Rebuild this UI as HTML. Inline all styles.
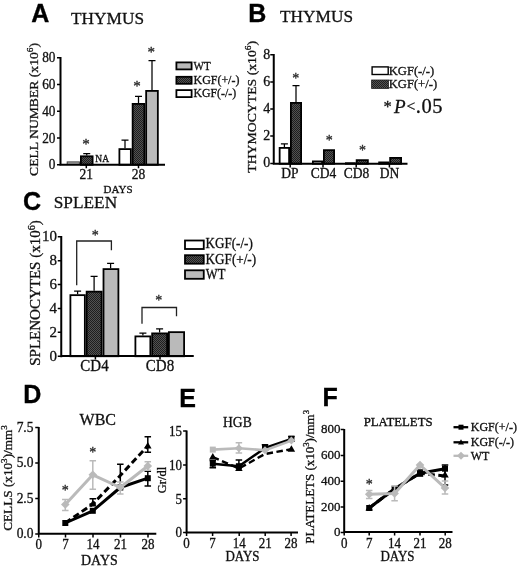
<!DOCTYPE html>
<html><head><meta charset="utf-8">
<style>
html,body{margin:0;padding:0;background:#fff;width:520px;height:566px;overflow:hidden}
svg{display:block;will-change:transform}
text{font-family:"Liberation Serif",serif;fill:#111;stroke:#111;stroke-width:0.3px}
.L{font-family:"Liberation Sans",sans-serif;font-weight:bold;fill:#000;stroke:#000;stroke-width:0.35px}
.ax{stroke:#000;stroke-width:2;fill:none}
.tk{stroke:#000;stroke-width:1.5;fill:none}
.bar{stroke:#000;stroke-width:1.8}
</style></head><body>
<svg width="520" height="566" viewBox="0 0 520 566">
<defs>
<pattern id="h" width="2" height="2" patternUnits="userSpaceOnUse">
<rect width="2" height="2" fill="#525252"/><rect width="1" height="1" fill="#1e1e1e"/><rect x="1" y="1" width="1" height="1" fill="#1e1e1e"/>
</pattern>
</defs>
<rect width="520" height="566" fill="#fff"/>
<text class="L" x="31.2" y="21.8" font-size="25">A</text>
<text transform="translate(71,23.8) scale(1,1.02)" font-size="17.3">THYMUS</text>
<text transform="translate(38.2,109.5) scale(1,1.05) rotate(-90)" text-anchor="middle" font-size="13">CELL NUMBER (x10<tspan font-size="8.8" dy="-4.9">6</tspan><tspan dy="4.9">)</tspan></text>
<path class="tk" d="M57.0 57.75H60.5M57.0 84.5H60.5M57.0 111.25H60.5M57.0 138H60.5M57.0 164.75H60.5"/>
<text transform="translate(55.5,62.35) scale(1,1.05)" font-size="13.3" text-anchor="end">80</text>
<text transform="translate(55.5,89.1) scale(1,1.05)" font-size="13.3" text-anchor="end">60</text>
<text transform="translate(55.5,115.85) scale(1,1.05)" font-size="13.3" text-anchor="end">40</text>
<text transform="translate(55.5,142.6) scale(1,1.05)" font-size="13.3" text-anchor="end">20</text>
<text transform="translate(55.5,169.35) scale(1,1.05)" font-size="13.3" text-anchor="end">0</text>
<rect x="67.2" y="161.9" width="12.2" height="2.6" fill="#aaa" stroke="#444" stroke-width="1"/>
<path d="M86.75 155.4V153.5M83.25 153.5H90.25" stroke="#000" stroke-width="1.25" fill="none"/>
<rect class="bar" x="80.9" y="156.3" width="11.7" height="8.449999999999994" fill="url(#h)"/>
<path d="M125 148.2V140.2M121.5 140.2H128.5" stroke="#000" stroke-width="1.25" fill="none"/>
<rect class="bar" x="119.4" y="149.1" width="11.45" height="15.650000000000011" fill="#fff"/>
<path d="M138.5 103V96.25M135.0 96.25H142.0" stroke="#000" stroke-width="1.25" fill="none"/>
<rect class="bar" x="132.65" y="103.9" width="11.7" height="60.85" fill="url(#h)"/>
<path d="M152 90V60.5M148.5 60.5H155.5" stroke="#000" stroke-width="1.25" fill="none"/>
<rect class="bar" x="146.15" y="90.9" width="11.7" height="73.85" fill="#bababa"/>
<path class="ax" d="M60.5 57V165.75M59.5 164.75H165"/>
<path class="tk" d="M86.3 164.75V168.3M138.5 164.75V168.3"/>
<text x="86.1" y="149.35" font-size="15" text-anchor="middle" style="fill:#2a2a2a;stroke:#2a2a2a">*</text>
<text x="137" y="90.75" font-size="15" text-anchor="middle" style="fill:#2a2a2a;stroke:#2a2a2a">*</text>
<text x="151.2" y="56.55" font-size="15" text-anchor="middle" style="fill:#2a2a2a;stroke:#2a2a2a">*</text>
<text transform="translate(95.3,162.4) scale(1,1.0)" font-size="9.5">NA</text>
<text transform="translate(86.3,178.5) scale(1,1.05)" font-size="13.5" text-anchor="middle">21</text>
<text transform="translate(138.5,178.5) scale(1,1.05)" font-size="13.5" text-anchor="middle">28</text>
<text transform="translate(103.6,193.4) scale(1,0.97)" font-size="11">DAYS</text>
<rect class="bar" x="176.4" y="62.4" width="15.2" height="7" fill="#bababa"/>
<rect class="bar" x="176.4" y="76.8" width="15.2" height="7" fill="url(#h)"/>
<rect class="bar" x="176.4" y="90.1" width="15.2" height="7" fill="#fff"/>
<text transform="translate(193.5,69.5) scale(1,1.05)" font-size="12.4" textLength="17.2" lengthAdjust="spacingAndGlyphs">WT</text>
<text transform="translate(193.5,83.9) scale(1,1.05)" font-size="12.4" textLength="45.9" lengthAdjust="spacingAndGlyphs">KGF(+/-)</text>
<text transform="translate(193.5,97.4) scale(1,1.05)" font-size="12.4" textLength="42.6" lengthAdjust="spacingAndGlyphs">KGF(-/-)</text>
<text class="L" x="248.3" y="21.9" font-size="25">B</text>
<text transform="translate(280,22.3) scale(1,1.02)" font-size="17.3">THYMUS</text>
<text transform="translate(256.3,106.8) scale(1,1.05) rotate(-90)" text-anchor="middle" font-size="13.1">THYMOCYTES (x10<tspan font-size="8.9" dy="-5.0">6</tspan><tspan dy="5.0">)</tspan></text>
<path class="tk" d="M270.25 54.8H273.75M270.25 81.9H273.75M270.25 108.9H273.75M270.25 136H273.75M270.25 163.5H273.75"/>
<text transform="translate(270.2,58.5) scale(1,1.05)" font-size="14" text-anchor="end">8</text>
<text transform="translate(270.2,85.6) scale(1,1.05)" font-size="14" text-anchor="end">6</text>
<text transform="translate(270.2,112.6) scale(1,1.05)" font-size="14" text-anchor="end">4</text>
<text transform="translate(270.2,139.7) scale(1,1.05)" font-size="14" text-anchor="end">2</text>
<text transform="translate(270.2,167.2) scale(1,1.05)" font-size="14" text-anchor="end">0</text>
<path d="M284.4 147V143.75M280.9 143.75H287.9" stroke="#000" stroke-width="1.25" fill="none"/>
<rect class="bar" x="279.65" y="147.9" width="9.45" height="15.85" fill="#fff"/>
<path d="M296 102V85.5M292.5 85.5H299.5" stroke="#000" stroke-width="1.25" fill="none"/>
<rect class="bar" x="290.9" y="102.9" width="10.2" height="60.85" fill="url(#h)"/>
<rect class="bar" x="312.9" y="161.4" width="9.2" height="2.35" fill="#fff"/>
<rect class="bar" x="323.9" y="150.15" width="10.2" height="13.6" fill="url(#h)"/>
<rect class="bar" x="345.9" y="163.20000000000002" width="8.95" height="0.5499999999999886" fill="#fff"/>
<rect class="bar" x="356.65" y="160.15" width="11.2" height="3.6" fill="url(#h)"/>
<rect class="bar" x="379.15" y="162.4" width="9.2" height="1.35" fill="#fff"/>
<rect class="bar" x="390.15" y="157.9" width="10.95" height="5.85" fill="url(#h)"/>
<path class="ax" d="M273.75 54V164.75M272.75 163.75H407.5"/>
<path class="tk" d="M290.2 163.75V167.5M323 163.75V167.5M356.2 163.75V167.5M389.4 163.75V167.5"/>
<text x="295.75" y="83.08" font-size="14" text-anchor="middle" style="fill:#2a2a2a;stroke:#2a2a2a">*</text>
<text x="329.2" y="144.58" font-size="14" text-anchor="middle" style="fill:#2a2a2a;stroke:#2a2a2a">*</text>
<text x="362.5" y="155.33" font-size="14" text-anchor="middle" style="fill:#2a2a2a;stroke:#2a2a2a">*</text>
<text transform="translate(290,178) scale(1,1.05)" font-size="13.5" text-anchor="middle">DP</text>
<text transform="translate(323.5,178) scale(1,1.05)" font-size="13.5" text-anchor="middle">CD4</text>
<text transform="translate(356.6,178) scale(1,1.05)" font-size="13.5" text-anchor="middle">CD8</text>
<text transform="translate(389.5,178) scale(1,1.05)" font-size="13.5" text-anchor="middle">DN</text>
<rect x="372.1" y="66.9" width="16.1" height="7.6" fill="#fff" stroke="#000" stroke-width="1.4"/>
<rect x="371.6" y="80" width="17" height="8.5" fill="url(#h)" stroke="#222" stroke-width="0.8"/>
<text transform="translate(388.75,74.5) scale(1,1.05)" font-size="12.6">KGF(-/-)</text>
<text transform="translate(388.75,88) scale(1,1.05)" font-size="12.6">KGF(+/-)</text>
<text x="383.5" y="112.5" font-size="19"><tspan font-size="16.5" dy="-0.8">*</tspan><tspan font-style="italic" dx="2.25" dy="0.8">P</tspan><tspan dx="1" dy="-1.2" font-size="15.5">&lt;</tspan><tspan font-size="20.5" dx="0.3" dy="1.2" letter-spacing="0.6">.05</tspan></text>
<text class="L" x="23" y="210" font-size="25">C</text>
<text transform="translate(53.75,208.3) scale(1,0.98)" font-size="17.3">SPLEEN</text>
<text transform="translate(40,293) scale(1,1.05) rotate(-90)" text-anchor="middle" font-size="14.3">SPLENOCYTES (x10<tspan font-size="9.7" dy="-5.4">6</tspan><tspan dy="5.4">)</tspan></text>
<path class="tk" d="M57.75 236.75H61.25M57.75 260.65H61.25M57.75 284.55H61.25M57.75 308.45H61.25M57.75 332.35H61.25M57.75 356.25H61.25"/>
<text transform="translate(57,241.05) scale(1,0.97)" font-size="15" text-anchor="end">10</text>
<text transform="translate(57,264.95) scale(1,0.97)" font-size="15" text-anchor="end">8</text>
<text transform="translate(57,288.85) scale(1,0.97)" font-size="15" text-anchor="end">6</text>
<text transform="translate(57,312.75) scale(1,0.97)" font-size="15" text-anchor="end">4</text>
<text transform="translate(57,336.65) scale(1,0.97)" font-size="15" text-anchor="end">2</text>
<text transform="translate(57,360.55) scale(1,0.97)" font-size="15" text-anchor="end">0</text>
<path d="M76.7 285.3V241H111.4V250.2" stroke="#222" stroke-width="1.3" fill="none"/>
<path d="M142 323.75V307.5H176.5V316.25" stroke="#222" stroke-width="1.3" fill="none"/>
<path d="M77.6 294.25V291M74.1 291H81.1" stroke="#000" stroke-width="1.25" fill="none"/>
<rect class="bar" x="70.4" y="295.15" width="14.45" height="61.1" fill="#fff"/>
<path d="M94.1 290.75V276.25M90.6 276.25H97.6" stroke="#000" stroke-width="1.25" fill="none"/>
<rect class="bar" x="86.65" y="291.65" width="14.95" height="64.6" fill="url(#h)"/>
<path d="M110.6 268.25V263.25M107.1 263.25H114.1" stroke="#000" stroke-width="1.25" fill="none"/>
<rect class="bar" x="103.5" y="269.09999999999997" width="14.900000000000002" height="87.15" fill="#bababa"/>
<path d="M142.9 335.5V333M139.4 333H146.4" stroke="#000" stroke-width="1.25" fill="none"/>
<rect class="bar" x="135.4" y="336.4" width="14.95" height="19.85" fill="#fff"/>
<path d="M159.6 332.5V328.75M156.1 328.75H163.1" stroke="#000" stroke-width="1.25" fill="none"/>
<rect class="bar" x="152.15" y="333.4" width="14.95" height="22.85" fill="url(#h)"/>
<rect class="bar" x="168.9" y="332.15" width="15.2" height="24.1" fill="#bababa"/>
<path class="ax" d="M61.25 236V357.25M60.25 356H193.75"/>
<path class="tk" d="M95.4 356V359.5M160 356V359.5"/>
<text x="95.3" y="240.08" font-size="14" text-anchor="middle" style="fill:#2a2a2a;stroke:#2a2a2a">*</text>
<text x="158.75" y="304.58" font-size="14" text-anchor="middle" style="fill:#2a2a2a;stroke:#2a2a2a">*</text>
<text transform="translate(94.5,371) scale(1,1.05)" font-size="15" text-anchor="middle">CD4</text>
<text transform="translate(160,371) scale(1,1.05)" font-size="15" text-anchor="middle">CD8</text>
<rect class="bar" x="185" y="240.5" width="18.75" height="8.5" fill="#fff"/>
<rect class="bar" x="185" y="255.2" width="18.75" height="8.5" fill="url(#h)"/>
<rect class="bar" x="185" y="270.3" width="18.75" height="8.5" fill="#bababa"/>
<text transform="translate(205.6,248.3) scale(1,1.05)" font-size="13.5" textLength="47.2" lengthAdjust="spacingAndGlyphs">KGF(-/-)</text>
<text transform="translate(205.6,263.5) scale(1,1.05)" font-size="13.5" textLength="50.5" lengthAdjust="spacingAndGlyphs">KGF(+/-)</text>
<text transform="translate(205.8,278.8) scale(1,1.05)" font-size="13.5" textLength="19.6" lengthAdjust="spacingAndGlyphs">WT</text>
<text class="L" x="23.2" y="403" font-size="25">D</text>
<text transform="translate(79.6,425.3) scale(1,1.0)" font-size="16">WBC</text>
<text transform="translate(12.2,478) scale(1,1.05) rotate(-90)" text-anchor="middle" font-size="12.6">CELLS (x10<tspan font-size="8.6" dy="-4.8">3</tspan><tspan dy="4.8">)/mm</tspan><tspan font-size="8.6" dy="-4.8">3</tspan></text>
<path class="tk" d="M35.25 427.5H38.75M35.25 463H38.75M35.25 498.5H38.75M35.25 534H38.75"/>
<text transform="translate(33.5,431.8) scale(1,1.05)" font-size="13.5" text-anchor="end">7.5</text>
<text transform="translate(33.5,467.3) scale(1,1.05)" font-size="13.5" text-anchor="end">5.0</text>
<text transform="translate(33.5,502.8) scale(1,1.05)" font-size="13.5" text-anchor="end">2.5</text>
<text transform="translate(33.5,538.3) scale(1,1.05)" font-size="13.5" text-anchor="end">0.0</text>
<path class="ax" d="M38.75 427V534.75M38 533.75H156.3"/>
<path class="tk" d="M38.75 533.75V537.5M65.5 533.75V537.5M93 533.75V537.5M120.5 533.75V537.5M148 533.75V537.5"/>
<text transform="translate(38.75,549) scale(1,1.05)" font-size="13" text-anchor="middle">0</text>
<text transform="translate(65.5,549) scale(1,1.05)" font-size="13" text-anchor="middle">7</text>
<text transform="translate(93,549) scale(1,1.05)" font-size="13" text-anchor="middle">14</text>
<text transform="translate(120.5,549) scale(1,1.05)" font-size="13" text-anchor="middle">21</text>
<text transform="translate(148,549) scale(1,1.05)" font-size="13" text-anchor="middle">28</text>
<text transform="translate(81,565) scale(1,1.05)" font-size="14">DAYS</text>
<path d="M92.8 498.8V504M89.55 498.8H96.05M89.55 504H96.05" stroke="#000" stroke-width="1.5" fill="none"/>
<path d="M120.3 464.3V488M117.05 464.3H123.55M117.05 488H123.55" stroke="#000" stroke-width="1.5" fill="none"/>
<path d="M147.8 436.8V452.2M144.55 436.8H151.05M144.55 452.2H151.05" stroke="#000" stroke-width="1.5" fill="none"/>
<path d="M65.3 523L92.8 504L120.3 475.5L147.8 445.9" stroke="#000" stroke-width="3.0" fill="none" stroke-linejoin="round" stroke-dasharray="6.5 3.5"/>
<path d="M92.8 500.085L96.55 506.61H89.05Z" fill="#000"/>
<path d="M147.8 441.98499999999996L151.55 448.51H144.05Z" fill="#000"/>
<path d="M147.8 471.3V486M144.55 471.3H151.05M144.55 486H151.05" stroke="#000" stroke-width="1.5" fill="none"/>
<path d="M65.3 523L92.8 510.8L120.3 487.5L147.8 478.2" stroke="#000" stroke-width="3.0" fill="none" stroke-linejoin="round"/>
<rect x="62.3" y="520.0" width="6" height="6" fill="#000"/>
<rect x="89.8" y="507.8" width="6" height="6" fill="#000"/>
<rect x="117.3" y="484.5" width="6" height="6" fill="#000"/>
<rect x="144.8" y="475.2" width="6" height="6" fill="#000"/>
<path d="M65.3 499.4V510.4M62.05 499.4H68.55M62.05 510.4H68.55" stroke="#bababa" stroke-width="1.5" fill="none"/>
<path d="M92.8 460.7V489.2M89.55 460.7H96.05M89.55 489.2H96.05" stroke="#bababa" stroke-width="1.5" fill="none"/>
<path d="M120.3 482V494M117.05 482H123.55M117.05 494H123.55" stroke="#bababa" stroke-width="1.5" fill="none"/>
<path d="M147.8 461.7V470.2M144.55 461.7H151.05M144.55 470.2H151.05" stroke="#bababa" stroke-width="1.5" fill="none"/>
<path d="M65.3 504.5L92.8 474.8L120.3 487.5L147.8 466" stroke="#bababa" stroke-width="3.0" fill="none" stroke-linejoin="round"/>
<path d="M65.3 500.2L69.6 504.5L65.3 508.8L61.0 504.5Z" fill="#bababa"/>
<path d="M92.8 470.5L97.1 474.8L92.8 479.1L88.5 474.8Z" fill="#bababa"/>
<path d="M120.3 483.2L124.6 487.5L120.3 491.8L116.0 487.5Z" fill="#bababa"/>
<path d="M147.8 461.7L152.10000000000002 466L147.8 470.3L143.5 466Z" fill="#bababa"/>
<text x="65.3" y="494.78" font-size="14" text-anchor="middle" style="fill:#2a2a2a;stroke:#2a2a2a">*</text>
<text x="92.8" y="457.08" font-size="14" text-anchor="middle" style="fill:#2a2a2a;stroke:#2a2a2a">*</text>
<text class="L" x="179.3" y="407" font-size="25">E</text>
<text transform="translate(223,427.2) scale(1,1.0)" font-size="13.6">HGB</text>
<text transform="translate(166.3,480) rotate(-90)" text-anchor="middle" font-size="12.5">Gr/dl</text>
<path class="tk" d="M183.1 431.1H186.6M183.1 465H186.6M183.1 498.8H186.6M183.1 532.5H186.6"/>
<text transform="translate(182,435.9) scale(1,1.05)" font-size="13" text-anchor="end">15</text>
<text transform="translate(182,469.8) scale(1,1.05)" font-size="13" text-anchor="end">10</text>
<text transform="translate(182,503.6) scale(1,1.05)" font-size="13" text-anchor="end">5</text>
<text transform="translate(182,537.3) scale(1,1.05)" font-size="13" text-anchor="end">0</text>
<path class="ax" d="M186.6 430.5V533.5M185.6 532.5H298"/>
<path class="tk" d="M186.6 532.5V536M212.6 532.5V536M239.2 532.5V536M265.2 532.5V536M291.1 532.5V536"/>
<text transform="translate(186.6,548) scale(1,1.05)" font-size="13" text-anchor="middle">0</text>
<text transform="translate(212.6,548) scale(1,1.05)" font-size="13" text-anchor="middle">7</text>
<text transform="translate(239.2,548) scale(1,1.05)" font-size="13" text-anchor="middle">14</text>
<text transform="translate(265.2,548) scale(1,1.05)" font-size="13" text-anchor="middle">21</text>
<text transform="translate(291.1,548) scale(1,1.05)" font-size="13" text-anchor="middle">28</text>
<text transform="translate(225.4,561) scale(1,1.05)" font-size="13">DAYS</text>
<path d="M212.8 457L238.9 468.5L265 454L291.4 449.2" stroke="#000" stroke-width="2.4" fill="none" stroke-linejoin="round" stroke-dasharray="6.5 3.5"/>
<path d="M212.8 453.085L216.55 459.61H209.05Z" fill="#000"/>
<path d="M238.9 464.585L242.65 471.11H235.15Z" fill="#000"/>
<path d="M291.4 445.28499999999997L295.15 451.81H287.65Z" fill="#000"/>
<path d="M212.8 460.4V467.8M209.55 460.4H216.05M209.55 467.8H216.05" stroke="#000" stroke-width="1.5" fill="none"/>
<path d="M238.9 460V467M235.65 460H242.15M235.65 467H242.15" stroke="#000" stroke-width="1.5" fill="none"/>
<path d="M265 444.8V450M261.75 444.8H268.25M261.75 450H268.25" stroke="#000" stroke-width="1.5" fill="none"/>
<path d="M291.4 436.6V441M288.15 436.6H294.65M288.15 441H294.65" stroke="#000" stroke-width="1.5" fill="none"/>
<path d="M212.8 463.7L238.9 466.2L265 448L291.4 438.8" stroke="#000" stroke-width="2.4" fill="none" stroke-linejoin="round"/>
<rect x="209.8" y="460.7" width="6" height="6" fill="#000"/>
<rect x="235.9" y="463.2" width="6" height="6" fill="#000"/>
<rect x="262.0" y="445.0" width="6" height="6" fill="#000"/>
<rect x="288.4" y="435.8" width="6" height="6" fill="#000"/>
<path d="M238.9 442.8V453M235.65 442.8H242.15M235.65 453H242.15" stroke="#bababa" stroke-width="1.5" fill="none"/>
<path d="M212.8 449.6L238.9 448.3L265 450.2L291.4 440.6" stroke="#bababa" stroke-width="2.6" fill="none" stroke-linejoin="round"/>
<rect x="209.8" y="446.6" width="6" height="6" fill="#bababa"/>
<path d="M238.9 444.3L242.9 448.3L238.9 452.3L234.9 448.3Z" fill="#bababa"/>
<path d="M265 446.2L269 450.2L265 454.2L261 450.2Z" fill="#bababa"/>
<path d="M291.4 436.6L295.4 440.6L291.4 444.6L287.4 440.6Z" fill="#bababa"/>
<text class="L" x="322.6" y="406.4" font-size="25">F</text>
<text transform="translate(363.7,426.2) scale(1,0.97)" font-size="12.8" style="stroke-width:0.35px">PLATELETS</text>
<text transform="translate(313.7,476.8) scale(1,1.05) rotate(-90)" text-anchor="middle" font-size="12.35">PLATELETS (x10<tspan font-size="8.4" dy="-4.7">3</tspan><tspan dy="4.7">)/mm</tspan><tspan font-size="8.4" dy="-4.7">3</tspan></text>
<path class="tk" d="M340.7 429.5H344.2M340.7 455.4H344.2M340.7 481.2H344.2M340.7 507H344.2M340.7 532.5H344.2"/>
<text transform="translate(340.5,433.3) scale(1,0.97)" font-size="13" text-anchor="end">800</text>
<text transform="translate(340.5,459.2) scale(1,0.97)" font-size="13" text-anchor="end">600</text>
<text transform="translate(340.5,485.0) scale(1,0.97)" font-size="13" text-anchor="end">400</text>
<text transform="translate(340.5,510.8) scale(1,0.97)" font-size="13" text-anchor="end">200</text>
<text transform="translate(340.5,536.3) scale(1,0.97)" font-size="13" text-anchor="end">0</text>
<path class="ax" d="M344.2 429V533M343.2 532H452.5"/>
<path class="tk" d="M344.2 532V535.5M369.2 532V535.5M394.6 532V535.5M420 532V535.5M445.2 532V535.5"/>
<text transform="translate(344.2,548) scale(1,1.05)" font-size="13" text-anchor="middle">0</text>
<text transform="translate(369.2,548) scale(1,1.05)" font-size="13" text-anchor="middle">7</text>
<text transform="translate(394.6,548) scale(1,1.05)" font-size="13" text-anchor="middle">14</text>
<text transform="translate(420,548) scale(1,1.05)" font-size="13" text-anchor="middle">21</text>
<text transform="translate(445.2,548) scale(1,1.05)" font-size="13" text-anchor="middle">28</text>
<text transform="translate(380.4,561) scale(1,1.05)" font-size="13">DAYS</text>
<path d="M369.2 508L394.6 488.8L420 473.3L445 476" stroke="#000" stroke-width="3.0" fill="none" stroke-linejoin="round" stroke-dasharray="6.5 3.5"/>
<path d="M369.2 504.085L372.95 510.61H365.45Z" fill="#000"/>
<path d="M445 471.085L448.75 477.61H441.25Z" fill="#000"/>
<path d="M445 465V485M441.75 465H448.25M441.75 485H448.25" stroke="#000" stroke-width="1.5" fill="none"/>
<path d="M420 470V476M416.75 470H423.25M416.75 476H423.25" stroke="#000" stroke-width="1.5" fill="none"/>
<path d="M369.2 508L394.6 488.8L420 473.3L445 468.7" stroke="#000" stroke-width="3.0" fill="none" stroke-linejoin="round"/>
<rect x="366.2" y="505.0" width="6" height="6" fill="#000"/>
<rect x="391.6" y="485.8" width="6" height="6" fill="#000"/>
<rect x="417.0" y="470.3" width="6" height="6" fill="#000"/>
<rect x="442.0" y="465.7" width="6" height="6" fill="#000"/>
<path d="M369.2 490.6V498.5M365.95 490.6H372.45M365.95 498.5H372.45" stroke="#bababa" stroke-width="1.5" fill="none"/>
<path d="M394.6 486V500.7M391.35 486H397.85M391.35 500.7H397.85" stroke="#bababa" stroke-width="1.5" fill="none"/>
<path d="M445 481V494M441.75 481H448.25M441.75 494H448.25" stroke="#bababa" stroke-width="1.5" fill="none"/>
<path d="M369.2 494.3L394.6 493.4L420 465L445 487.9" stroke="#bababa" stroke-width="3.0" fill="none" stroke-linejoin="round"/>
<path d="M369.2 490.0L373.5 494.3L369.2 498.6L364.9 494.3Z" fill="#bababa"/>
<path d="M394.6 489.09999999999997L398.90000000000003 493.4L394.6 497.7L390.3 493.4Z" fill="#bababa"/>
<path d="M420 460.7L424.3 465L420 469.3L415.7 465Z" fill="#bababa"/>
<path d="M445 483.59999999999997L449.3 487.9L445 492.2L440.7 487.9Z" fill="#bababa"/>
<text x="369.2" y="488.88" font-size="14" text-anchor="middle" style="fill:#2a2a2a;stroke:#2a2a2a">*</text>
<path d="M453.5 427.2H468.2" stroke="#000" stroke-width="2.3"/>
<rect x="458.5" y="424.7" width="5" height="5" fill="#000"/>
<path d="M453.5 442.3H468.2" stroke="#000" stroke-width="2.3"/>
<path d="M461 439.168L464.0 444.38800000000003H458.0Z" fill="#000"/>
<path d="M453.5 455.8H468.2" stroke="#bababa" stroke-width="2.3"/>
<path d="M461 451.8L465 455.8L461 459.8L457 455.8Z" fill="#bababa"/>
<text transform="translate(470.8,431) scale(1,1.05)" font-size="12">KGF(+/-)</text>
<text transform="translate(470.8,446.2) scale(1,1.05)" font-size="12">KGF(-/-)</text>
<text transform="translate(470.8,459.8) scale(1,1.05)" font-size="12">WT</text>
</svg>
</body></html>
